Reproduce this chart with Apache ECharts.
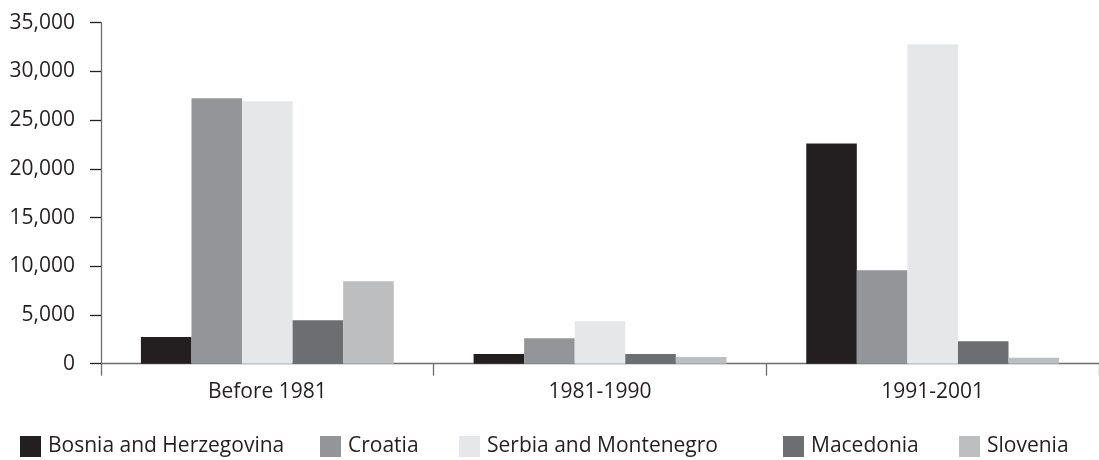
<!DOCTYPE html>
<html>
<head>
<meta charset="utf-8">
<script src="https://cdn.jsdelivr.net/npm/echarts@6/dist/echarts.min.js"></script>
<style>
html,body{margin:0;padding:0;background:#fff;}
#chart{width:1099px;height:460px;}
</style>
</head>
<body>
<div id="chart"></div>
<script>
const categories = ['Before 1981', '1981-1990', '1991-2001'];
const seriesNames = ['Bosnia and Herzegovina', 'Croatia', 'Serbia and Montenegro', 'Macedonia', 'Slovenia'];
const bosnia = [2750, 1000, 22600];
const croatia = [27250, 2600, 9600];
const serbia = [26950, 4350, 32800];
const macedonia = [4450, 1000, 2300];
const slovenia = [8450, 700, 600];
const yTicks = [0, 5000, 10000, 15000, 20000, 25000, 30000, 35000];

const seriesValues = [bosnia, croatia, serbia, macedonia, slovenia];
const colors = ['#231f20', '#939598', '#e6e7e8', '#6d6e71', '#bcbec0'];
const legendLeft = [20, 320, 459, 783, 959];
const FONT = '"Open Sans", sans-serif';
const TXT = '#231f20';

const fmt = v => String(v).replace(/\B(?=(\d{3})+(?!\d))/g, ',');

const chart = echarts.init(document.getElementById('chart'), null, {renderer: 'canvas'});
chart.setOption({
  animation: false,
  backgroundColor: '#fff',
  textStyle: {fontFamily: FONT},
  color: colors,
  grid: {left: 101, right: -5.5, top: 22.7, bottom: 96.3, containLabel: false},
  legend: seriesNames.map((n, i) => ({
    data: [n],
    left: legendLeft[i],
    top: 436,
    padding: 0,
    itemWidth: 21,
    itemHeight: 21,
    itemGap: 0,
    icon: 'rect',
    selectedMode: false,
    textStyle: {fontFamily: FONT, fontSize: 21, color: TXT, padding: [0, 0, 0, 2], lineHeight: 21}
  })),
  xAxis: {
    type: 'category',
    data: categories,
    axisLine: {lineStyle: {color: '#6d6e71', width: 1.3}},
    axisTick: {show: true, alignWithLabel: false, length: 12, lineStyle: {color: '#6d6e71', width: 1.3}},
    axisLabel: {fontFamily: FONT, fontSize: 21, color: TXT, margin: 18},
    splitLine: {show: false}
  },
  yAxis: {
    type: 'value',
    min: yTicks[0],
    max: yTicks[yTicks.length - 1],
    interval: yTicks[1] - yTicks[0],
    axisLine: {show: true, lineStyle: {color: '#6d6e71', width: 1.3}},
    axisTick: {show: true, length: 11, lineStyle: {color: '#231f20', width: 1.3}},
    axisLabel: {fontFamily: FONT, fontSize: 21, color: TXT, margin: 26, formatter: fmt},
    splitLine: {show: false}
  },
  series: seriesNames.map((n, i) => ({
    name: n,
    type: 'bar',
    data: seriesValues[i],
    barGap: '0%',
    barCategoryGap: '24%',
    itemStyle: {color: colors[i]},
    emphasis: {disabled: true}
  }))
});
</script>
</body>
</html>
